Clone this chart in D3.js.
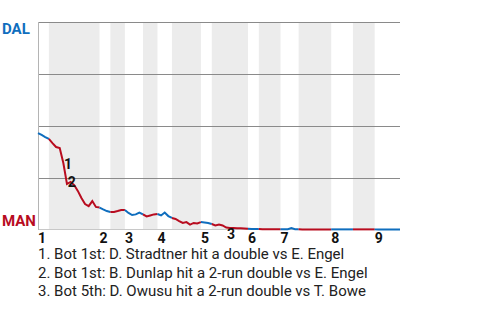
<!DOCTYPE html>
<html>
<head>
<meta charset="utf-8">
<script src="https://cdn.jsdelivr.net/npm/d3@7"></script>
<style>
  body { margin: 0; background: #fff; }
  svg { display: block; font-family: Roboto, "Liberation Sans", sans-serif; }
</style>
</head>
<body>
<svg id="drawing_region"></svg>
<script>
const teams = ["DAL", "MAN"];
const innings = ["1", "2", "3", "4", "5", "6", "7", "8", "9"];
// plate appearances in each half inning (top 1st, bot 1st, top 2nd, ...)
const halfInningPAs = [3, 14, 3, 4, 5, 4, 4, 8, 3, 10, 3, 6, 5, 9, 6, 6, 7];
// DAL win probability after each plate appearance
const winProb = [
  0.466, 0.457, 0.447, 0.438,
  0.418, 0.399, 0.394, 0.322, 0.221, 0.231, 0.216, 0.188, 0.154, 0.125, 0.115, 0.139, 0.111, 0.108,
  0.099, 0.091, 0.087,
  0.087, 0.091, 0.096, 0.096,
  0.082, 0.072, 0.075, 0.084, 0.075,
  0.065, 0.070, 0.075, 0.077,
  0.070, 0.084, 0.067, 0.058,
  0.053, 0.043, 0.034, 0.038, 0.026, 0.034, 0.031, 0.038,
  0.036, 0.034, 0.029,
  0.022, 0.026, 0.022, 0.012, 0.010, 0.010, 0.008, 0.008, 0.007, 0.006,
  0.005, 0.005, 0.005,
  0.004, 0.004, 0.004, 0.004, 0.004, 0.004,
  0.004, 0.004, 0.009, 0.004, 0.004,
  0.003, 0.003, 0.003, 0.003, 0.003, 0.003, 0.003, 0.003, 0.003,
  0.003, 0.003, 0.003, 0.003, 0.003, 0.003,
  0.003, 0.003, 0.003, 0.003, 0.003, 0.003,
  0.002, 0.002, 0.002, 0.002, 0.002, 0.002, 0.002
];
const eventIndex = [7, 8, 52];
const eventText = [
  "Bot 1st: D. Stradtner hit a double vs E. Engel",
  "Bot 1st: B. Dunlap hit a 2-run double vs E. Engel",
  "Bot 5th: D. Owusu hit a 2-run double vs T. Bowe"
];
const gridValues = [0.25, 0.5, 0.75, 1];

class WinProbChart {
  constructor(config) {
    this.config = {
      parent: config.parent,
      width: config.width || 480,
      height: config.height || 320,
      margin: config.margin || {top: 22, right: 80, bottom: 90, left: 38}
    };
    this.init();
  }

  init() {
    let self = this;
    self.svg = d3.select(self.config.parent)
      .attr('width', self.config.width)
      .attr('height', self.config.height);

    self.inner_width = self.config.width - self.config.margin.left - self.config.margin.right;
    self.inner_height = self.config.height - self.config.margin.top - self.config.margin.bottom;

    const total = d3.sum(halfInningPAs);
    self.x = d3.scaleLinear()
      .domain([0, total])
      .range([self.config.margin.left, self.config.margin.left + self.inner_width]);
    self.y = d3.scaleLinear()
      .domain([0, 1])
      .range([self.config.margin.top + self.inner_height, self.config.margin.top]);

    // start index of every half inning
    self.bounds = [0];
    halfInningPAs.forEach(n => self.bounds.push(self.bounds[self.bounds.length - 1] + n));

    self.colors = {top: "#0f6ebe", bot: "#b80c1f"};
  }

  render() {
    let self = this;
    const x = self.x, y = self.y;
    const x0 = x.range()[0], x1 = x.range()[1];

    // shaded bottom halves
    self.svg.append('g').selectAll('rect')
      .data(halfInningPAs.map((n, i) => i).filter(i => i % 2 == 1))
      .enter().append('rect')
      .attr('x', i => x(self.bounds[i]))
      .attr('width', i => x(self.bounds[i + 1]) - x(self.bounds[i]))
      .attr('y', y(1))
      .attr('height', y(0) - y(1))
      .attr('fill', '#ececec');

    // grid lines
    self.svg.append('g').selectAll('line')
      .data(gridValues)
      .enter().append('line')
      .attr('x1', x0).attr('x2', x1)
      .attr('y1', d => Math.round(y(d)) + 0.5)
      .attr('y2', d => Math.round(y(d)) + 0.5)
      .attr('stroke', '#8a8a8a')
      .attr('stroke-width', 1);

    self.svg.append('line')
      .attr('x1', x0).attr('x2', x1)
      .attr('y1', Math.round(y(0)) - 0.5).attr('y2', Math.round(y(0)) - 0.5)
      .attr('stroke', '#c8c8c8');

    self.svg.append('line')
      .attr('x1', x0 + 0.5).attr('x2', x0 + 0.5)
      .attr('y1', y(1)).attr('y2', y(0))
      .attr('stroke', '#b4b4b4');

    // team labels
    self.svg.append('text')
      .attr('x', 2).attr('y', y(1) + 12)
      .attr('font-size', '15px').attr('font-weight', 'bold')
      .attr('fill', self.colors.top)
      .text(teams[0]);
    self.svg.append('text')
      .attr('x', 2).attr('y', y(0) - 4)
      .attr('font-size', '15px').attr('font-weight', 'bold')
      .attr('fill', self.colors.bot)
      .text(teams[1]);

    // win probability line, one piece per half inning
    const line = d3.line()
      .x(d => x(d))
      .y(d => y(winProb[d]));

    self.svg.append('g').selectAll('path')
      .data(halfInningPAs)
      .enter().append('path')
      .attr('d', (n, i) => line(d3.range(self.bounds[i], self.bounds[i + 1] + 1)))
      .attr('fill', 'none')
      .attr('stroke', (n, i) => i % 2 == 0 ? self.colors.top : self.colors.bot)
      .attr('stroke-width', 2);

    // inning numbers
    self.svg.append('g').selectAll('text')
      .data(innings)
      .enter().append('text')
      .attr('x', (d, i) => x(self.bounds[i * 2]))
      .attr('y', y(0) + 13)
      .attr('font-size', '14px').attr('font-weight', 'bold')
      .attr('fill', '#111')
      .text(d => d);

    // event markers
    self.svg.append('g').selectAll('text')
      .data(eventIndex)
      .enter().append('text')
      .attr('x', d => (x(d - 1) + x(d)) / 2 + 2.5)
      .attr('y', d => (y(winProb[d - 1]) + y(winProb[d])) / 2 + 13)
      .attr('font-size', '14px').attr('font-weight', 'bold')
      .attr('fill', '#111')
      .text((d, i) => i + 1);

    // event list
    self.svg.append('g').selectAll('text')
      .data(eventText)
      .enter().append('text')
      .attr('x', x0)
      .attr('y', (d, i) => y(0) + 29 + i * 18.5)
      .attr('font-size', '15px')
      .attr('fill', '#222')
      .text((d, i) => (i + 1) + ". " + d);
  }
}

const chart = new WinProbChart({parent: '#drawing_region', width: 480, height: 320});
chart.render();
</script>
</body>
</html>
